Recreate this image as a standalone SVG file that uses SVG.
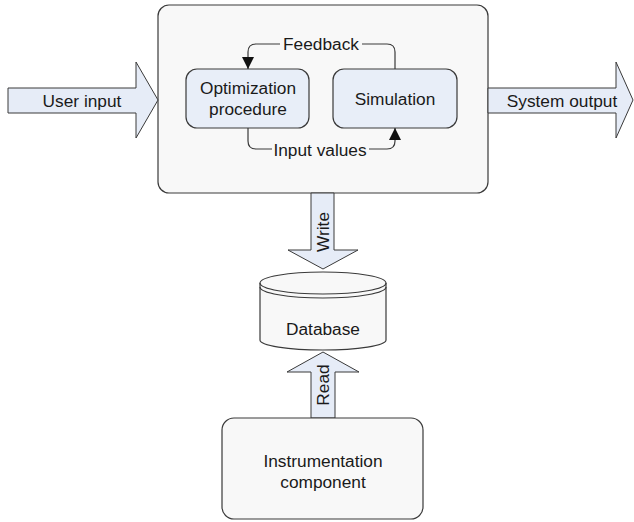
<svg xmlns="http://www.w3.org/2000/svg" width="634" height="522" viewBox="0 0 634 522">
<defs>
<style>
text{font-family:"Liberation Sans",Arial,sans-serif;font-size:17.3px;fill:#1a1a1a;text-anchor:middle}
.box{fill:#f8f8f8;stroke:#3a3a3a;stroke-width:1.2}
.inner{fill:#e8eef8;stroke:#3a3a3a;stroke-width:1.2}
.arrow{fill:#e6ecf7;stroke:#3a3a3a;stroke-width:1}
.line{fill:none;stroke:#3a3a3a;stroke-width:1.2}
</style>
<marker id="ah" markerUnits="userSpaceOnUse" markerWidth="12" markerHeight="14" refX="12" refY="6" orient="auto" viewBox="0 0 12 12">
<path d="M0,0 L12,6 L0,12 Z" fill="#111"/>
</marker>
</defs>
<rect width="634" height="522" fill="#ffffff"/>
<g id="main">
<rect class="box" x="158" y="5" width="330" height="188" rx="11"/>
</g>
<g id="user-input">
<polygon class="arrow" points="8,88 136,88 136,62 158,100 136,138 136,113 8,113"/>
<text x="82" y="106.5">User input</text>
</g>
<g id="system-output">
<polygon class="arrow" points="488,88 616,88 616,62 633,100 616,138 616,113 488,113"/>
<text x="562" y="106.5">System output</text>
</g>
<g id="optimization">
<rect class="inner" x="186" y="69" width="123" height="59" rx="11"/>
<text x="248" y="94">Optimization</text>
<text x="248" y="115">procedure</text>
</g>
<g id="simulation">
<rect class="inner" x="333" y="69" width="124" height="59" rx="11"/>
<text x="395" y="105">Simulation</text>
</g>
<g id="connectors">
<path class="line" d="M395,69 V52 Q395,44 387,44 H362"/>
<path class="line" d="M280,44 H256 Q248,44 248,52 V69" marker-end="url(#ah)"/>
<text x="321" y="50">Feedback</text>
<path class="line" d="M248,128 V141 Q248,149 256,149 H272"/>
<path class="line" d="M369,149 H387 Q395,149 395,141 V128" marker-end="url(#ah)"/>
<text x="320" y="155.5">Input values</text>
</g>
<g id="write">
<polygon class="arrow" points="311,193 334,193 334,250 358,250 323,269 288,250 311,250"/>
<text transform="translate(329,232) rotate(-90)">Write</text>
</g>
<g id="database">
<path class="box" d="M260,283 V340 A63,10 0 0 0 386,340 V283 A63,11 0 0 0 260,283 Z"/>
<path class="line" d="M260,283 A63,11 0 0 0 386,283"/>
<path class="line" d="M260,287 A63,11 0 0 0 386,287"/>
<text x="323" y="335">Database</text>
</g>
<g id="read">
<polygon class="arrow" points="311,418 311,372 287,372 323,352 359,372 335,372 335,418"/>
<text transform="translate(329,385) rotate(-90)">Read</text>
</g>
<g id="instrumentation">
<rect class="box" x="222" y="418" width="201" height="101" rx="12"/>
<text x="323" y="467">Instrumentation</text>
<text x="323" y="488">component</text>
</g>
</svg>
